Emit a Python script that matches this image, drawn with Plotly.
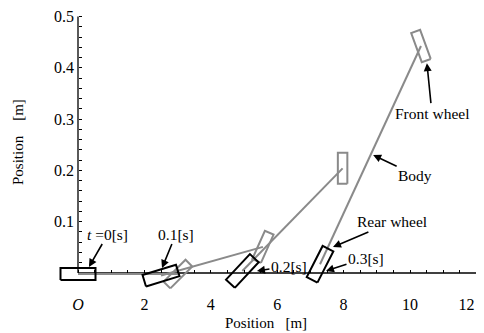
import math
import plotly.graph_objects as go

# ---------------- data ----------------
times = ["0", "0.1", "0.2", "0.3"]
# rear wheel (black) centre and heading (deg, as drawn)
rear_x = [0.0, 2.50, 4.95, 7.29]
rear_y = [-0.002, -0.005, 0.004, 0.017]
rear_angle = [0, 17, 47, 63]
# front wheel (grey) centre and heading (deg, as drawn)
front_x = [3.01, 5.57, 7.97, 10.33]
front_y = [-0.002, 0.051, 0.204, 0.4425]
front_angle = [45, 66, 90, 110]

x_tickvals = [0, 2, 4, 6, 8, 10, 12]
x_ticktext = ["<i>O</i>", "2", "4", "6", "8", "10", "12" + "\u00a0" * 5]
y_tickvals = [0.1, 0.2, 0.3, 0.4, 0.5]
y_ticktext = ["0.1", "0.2", "0.3", "0.4", "0.5"]
x_minor = [i * 0.5 for i in range(1, 25)]
y_minor = [round(i * 0.02, 2) for i in range(1, 26)]
x_axis_span = [0, 12]
y_axis_span = [0, 0.5]

# annotation labels: text, arrow tip (data), text offset (px)
ann_text = ["<i>t</i> =0[s]", "0.1[s]", "0.2[s]", "0.3[s]", "Rear wheel", "Body", "Front wheel"]
ann_x = [0.33, 2.53, 5.39, 7.47, 7.68, 8.89, 10.51]
ann_y = [0.0117, 0.0097, 0.0039, 0.0039, 0.0507, 0.230, 0.409]
ann_ax = [19, 14, 32, 40, 59, 42, 5]
ann_ay = [-33, -34, -5, -13, -25, 20, 50]

# ---------------- layout geometry ----------------
# the page body has an 8px margin, so the figure is drawn 8px smaller
OFF = 8
W, H = 484 - OFF, 333 - OFF
ML, MR, MT, MB = 32, 2, 2, 40
PW, PH = W - ML - MR, H - MT - MB
X0PX, SX = 78.0 - OFF, 33.2      # pixel of x=0, px per metre
Y0PX, SY = 273.0 - OFF, 513.0    # pixel of y=0, px per metre
xr = [(ML - X0PX) / SX, (ML + PW - X0PX) / SX]
yr = [(Y0PX - (MT + PH)) / SY, (Y0PX - MT) / SY]

FONT = "Liberation Serif, Times New Roman, serif"
GREY = "#8a8a8a"
WHEEL_L, WHEEL_W = 35, 12
FW_L, FW_W = 31, 9.5


def wheel(cx, cy, ang, L, Wd):
    a = math.radians(ang)
    ux, uy = math.cos(a), math.sin(a)
    vx, vy = -uy, ux
    xs, ys = [], []
    for s, t in [(-1, -1), (1, -1), (1, 1), (-1, 1), (-1, -1)]:
        ox = s * L / 2 * ux + t * Wd / 2 * vx
        oy = s * L / 2 * uy + t * Wd / 2 * vy
        xs.append(cx + ox / SX)
        ys.append(cy + oy / SY)
    return xs, ys


fig = go.Figure()

# axis lines (drawn from the origin)
fig.add_trace(go.Scatter(x=x_axis_span, y=[0, 0], mode="lines",
                         line=dict(color="black", width=1.3),
                         hoverinfo="skip", showlegend=False))
fig.add_trace(go.Scatter(x=[0, 0], y=y_axis_span, mode="lines",
                         line=dict(color="black", width=1.3),
                         hoverinfo="skip", showlegend=False))

# body lines
for i in range(len(times)):
    fig.add_trace(go.Scatter(x=[rear_x[i], front_x[i]], y=[rear_y[i], front_y[i]],
                             mode="lines", line=dict(color=GREY, width=2),
                             hoverinfo="skip", showlegend=False))
# front wheels
for i in range(len(times)):
    xs, ys = wheel(front_x[i], front_y[i], front_angle[i], FW_L, FW_W)
    fig.add_trace(go.Scatter(x=xs, y=ys, mode="lines", line=dict(color=GREY, width=2),
                             hoverinfo="skip", showlegend=False))
# rear wheels
for i in range(len(times)):
    xs, ys = wheel(rear_x[i], rear_y[i], rear_angle[i], WHEEL_L, WHEEL_W)
    fig.add_trace(go.Scatter(x=xs, y=ys, mode="lines", line=dict(color="black", width=2),
                             hoverinfo="skip", showlegend=False))

for t, x, y, ax, ay in zip(ann_text, ann_x, ann_y, ann_ax, ann_ay):
    fig.add_annotation(x=x, y=y, xref="x", yref="y", text=t, showarrow=True,
                       ax=ax, ay=ay, arrowhead=2, arrowsize=1, arrowwidth=1.6,
                       arrowcolor="black", font=dict(family=FONT, size=15.5, color="black"))

# axis titles
fig.add_annotation(x=(266 - OFF - ML) / PW, y=(MT + PH - (323 - OFF)) / PH,
                   xref="paper", yref="paper", xanchor="center", yanchor="middle",
                   text="Position\u00a0\u00a0 [m]", showarrow=False,
                   font=dict(family=FONT, size=15, color="black"))
fig.add_annotation(x=(18 - OFF - ML) / PW, y=(MT + PH - (142 - OFF)) / PH,
                   xref="paper", yref="paper", xanchor="center", yanchor="middle",
                   text="Position\u00a0\u00a0\u00a0 [m]", showarrow=False, textangle=-90,
                   font=dict(family=FONT, size=15, color="black"))

fig.update_layout(
    width=W, height=H, margin=dict(l=ML, r=MR, t=MT, b=MB, autoexpand=False),
    paper_bgcolor="white", plot_bgcolor="white", showlegend=False,
    font=dict(family=FONT, size=16, color="black"),
    xaxis=dict(range=xr, anchor="free", position=(MT + PH - Y0PX) / PH,
               showline=False, showgrid=False, zeroline=False,
               tickmode="array", tickvals=x_tickvals, ticktext=x_ticktext,
               ticks="inside", ticklen=3, tickcolor="black", tickwidth=1,
               ticklabelstandoff=20, ticklabeloverflow="allow",
               minor=dict(tickmode="array", tickvals=x_minor, ticks="inside",
                          ticklen=3, tickcolor="black", tickwidth=1, showgrid=False),
               tickfont=dict(family=FONT, size=16, color="black")),
    yaxis=dict(range=yr, anchor="free", position=(X0PX - ML) / PW,
               showline=False, showgrid=False, zeroline=False,
               tickmode="array", tickvals=y_tickvals, ticktext=y_ticktext,
               ticks="inside", ticklen=3, tickcolor="black", tickwidth=1,
               ticklabelstandoff=4,
               minor=dict(tickmode="array", tickvals=y_minor, ticks="inside",
                          ticklen=3, tickcolor="black", tickwidth=1, showgrid=False),
               tickfont=dict(family=FONT, size=16, color="black")),
)

fig.write_html("out.html")
